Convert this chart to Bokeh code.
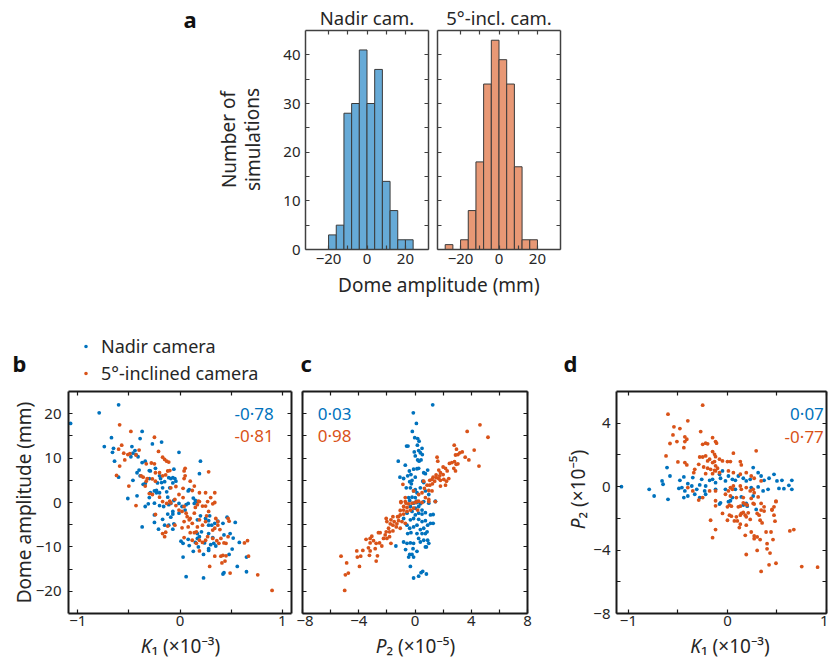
from bokeh.plotting import figure
from bokeh.layouts import column, row
from bokeh.models import Range1d, FixedTicker, LinearAxis, Label, Legend, LegendItem
from bokeh.embed import file_html
from bokeh.resources import INLINE

FONT = "Noto Sans"
BLUE = "#0072BD"
ORANGE = "#D95319"
HIST_BLUE = "#66AAD7"
HIST_ORANGE = "#E89875"
AX = "#262626"

# ---------------- data ----------------
# (a) histograms of dome amplitude (mm), 4 mm bins
nadir_bin_edges = [-20, -16, -12, -8, -4, 0, 4, 8, 12, 16, 20, 24]
nadir_counts = [3, 5, 28, 30, 41, 30, 37, 14, 8, 2, 2]
incl_bin_edges = [-28, -24, -20, -16, -12, -8, -4, 0, 4, 8, 12, 16, 20]
incl_counts = [1, 0, 2, 8, 18, 34, 43, 39, 34, 17, 2, 2]

# (b) K1 (x1e-3) vs dome amplitude (mm)
b_nadir = [(-1.07,17.8),(-0.79,20.2),(-0.60,22.0),(-0.67,14.6),(-0.74,12.6),(-0.65,12.2),(-0.66,11.3),(-0.64,9.3),
    (-0.60,5.7),(-0.51,0.9),(-0.47,12.6),(-0.46,11.1),(-0.44,11.7),(-0.48,10.3),(-0.43,10.8),(-0.41,10.3),(-0.39,14.4),
    (-0.37,16.0),(-0.37,9.0),(-0.34,9.3),(-0.30,7.2),(-0.29,7.1),(-0.27,13.2),(-0.18,13.6),(-0.30,5.4),(-0.40,7.3),
    (-0.39,6.0),(-0.42,6.7),(-0.46,5.0),(-0.36,4.1),(-0.34,4.3),(-0.24,7.7),(-0.25,2.6),(-0.23,2.7),(-0.22,4.4),
    (-0.20,6.0),(-0.19,5.4),(-0.18,4.5),(-0.15,4.7),(-0.13,2.4),(-0.11,5.6),(-0.09,5.4),(-0.07,5.6),(-0.06,7.5),
    (-0.05,5.4),(-0.04,4.8),(-0.07,4.4),(-0.01,11.3),(0.20,9.3),(0.19,6.5),(0.08,2.6),(0.09,2.9),(0.13,1.0),(0.15,0.5),
    (-0.42,1.5),(-0.30,1.1),(-0.29,2.2),(-0.23,2.2),(-0.20,2.2),(-0.17,3.3),(-0.12,1.2),(-0.10,3.3),
    (-0.34,-0.9),(-0.31,-0.3),(-0.25,-0.15),(-0.20,-0.7),(-0.16,-0.9),(-0.11,-0.5),(-0.09,-0.2),(-0.06,0.45),
    (-0.01,-0.2),(0.02,-0.9),(-0.07,-2.0),(-0.01,-2.4),(-0.12,-2.6),(-0.09,-3.3),(-0.07,-2.6),(-0.25,-2.8),
    (-0.17,-3.8),(-0.15,-5.1),(-0.11,-5.1),(-0.06,-4.8),(-0.07,-6.0),(-0.21,-6.0),(-0.25,-4.5),(-0.37,-5.5),
    (0.01,-8.7),(0.03,-9.2),(0.08,-8.3),(0.03,-12.3),(0.09,-9.7),(0.13,-11.0),(0.15,-9.0),(0.18,-10.0),(0.17,-8.1),
    (0.17,-7.0),(0.19,-7.7),(0.21,-6.6),(0.24,-9.1),(0.23,-11.7),(0.28,-10.4),(0.28,-10.8),(0.30,-9.5),(0.33,-9.2),
    (0.32,-7.9),(0.28,-7.0),(0.28,-5.1),(0.31,-5.1),(0.34,-4.7),(0.37,-4.2),(0.42,-4.7),(0.46,-3.3),(0.54,-4.5),
    (0.43,-7.3),(0.49,-7.0),(0.52,-8.0),(0.58,-9.0),(0.51,-10.5),(0.48,-11.7),(0.65,-12.3),(0.56,-14.4),(0.43,-15.8),
    (0.42,-16.1),(0.65,-15.6),(0.06,-16.7),(0.23,-17.0),(0.29,-3.0),(0.28,-4.1),(0.25,-3.6),(0.20,-3.0),(0.17,-3.9),
    (0.14,-0.2),(0.17,0.2),(0.08,-0.2),(0.06,-0.5),(0.05,-1.7),(0.35,-9.8)]
b_incl = [(-0.59,17.5),(-0.48,16.0),(-0.25,14.7),(-0.57,12.9),(-0.60,12.0),(-0.55,11.1),(-0.54,9.6),(-0.51,10.8),
    (-0.49,11.0),(-0.43,10.7),(-0.40,11.8),(-0.59,8.2),(-0.62,6.1),(-0.50,3.7),(-0.33,8.7),(-0.28,8.9),(-0.25,8.7),
    (-0.21,11.5),(-0.17,10.2),(-0.15,9.7),(-0.13,9.3),(-0.11,9.1),(-0.12,7.1),(-0.10,7.2),(-0.20,6.7),(-0.24,6.7),
    (-0.27,5.3),(-0.32,5.4),(-0.33,4.8),(-0.36,5.7),(-0.38,6.0),(-0.34,3.7),(-0.30,2.0),(-0.27,1.8),(-0.24,4.8),
    (-0.17,6.0),(-0.14,6.2),(-0.09,3.3),(-0.04,3.6),(0.05,7.7),(0.04,7.1),(0.05,6.0),(0.04,5.4),(0.03,3.2),(0.10,4.8),
    (0.12,2.7),(0.14,3.7),(0.19,2.2),(0.25,2.2),(0.28,6.9),(0.34,2.2),(0.30,1.1),(0.18,0.3),(0.03,1.1),(-0.01,1.8),
    (-0.05,0.7),(-0.10,0.3),(-0.20,1.2),
    (-0.43,-0.7),(-0.24,-2.7),(-0.17,0.2),(-0.13,-0.2),(-0.09,-0.1),(-0.04,-0.7),(-0.01,-1.7),(0.02,-2.0),(0.04,-0.9),
    (0.06,-2.4),(0.07,-3.2),(0.10,-3.6),(0.14,-2.4),(0.15,-1.1),(0.17,-0.5),(0.19,0.2),(0.22,-0.8),(0.25,-0.8),
    (0.27,0.2),(0.32,-0.3),(0.34,0.0),(0.28,-2.0),(0.26,-3.0),(0.25,-4.3),(0.22,-5.1),(0.19,-3.9),(0.17,-5.5),
    (0.16,-6.6),(0.14,-6.8),(0.10,-6.8),(0.08,-5.5),(0.04,-4.3),(0.02,-5.7),(-0.05,-5.1),(-0.12,-5.3),(-0.14,-6.7),
    (-0.15,-7.7),(-0.17,-7.0),(0.09,-3.9),(0.12,-4.7),(0.35,-3.6),(0.37,-4.3),(0.37,-5.1),(0.39,-6.1),(0.34,-5.8),
    (0.32,-6.2),(0.47,-3.6),(0.48,-4.2),(0.27,-7.7),(0.25,-8.5),(0.22,-9.0),(0.19,-8.5),(0.19,-10.9),(0.32,-8.1),
    (0.36,-8.6),(0.38,-9.2),(0.40,-8.1),(0.43,-9.1),(0.45,-9.2),(0.47,-7.7),(0.34,-12.1),(0.40,-12.1),(0.42,-11.9),
    (0.45,-12.0),(0.44,-13.2),(0.41,-13.6),(0.49,-15.9),(0.29,-14.4),(0.63,-9.1),(0.66,-8.6),(0.67,-12.1),
    (0.76,-16.3),(0.90,-19.8),(0.04,-7.9),(0.12,-8.5),(0.16,-9.2)]

# (c) P2 (x1e-5) vs dome amplitude (mm)
c_nadir = [(1.26,22.0),(-0.12,20.2),(0.10,17.8),(-0.19,16.0),(-0.02,14.6),(0.19,14.4),(0.29,13.8),(0.17,12.9),
    (-0.60,12.7),(-0.50,12.7),(-0.05,11.4),(0.26,11.7),(0.38,11.2),(0.50,12.2),(0.52,10.8),(0.02,10.5),(0.29,9.3),
    (0.19,9.6),(0.43,9.6),(-1.19,9.3),(-0.69,8.4),(-0.40,7.1),(-0.10,7.5),(0.14,7.6),(0.26,7.7),(-0.29,6.3),
    (-0.52,6.0),(-1.07,5.7),(-0.81,5.4),(-0.38,4.7),(-0.21,5.0),(0.02,5.7),(0.62,6.7),(0.74,6.5),(0.90,7.3),
    (-0.62,3.3),(-0.33,3.3),(-0.26,4.2),(-0.10,2.6),(0.02,2.9),(0.14,2.2),(0.38,3.3),(0.55,4.8),(0.62,4.5),
    (-0.45,1.1),(-0.21,1.2),(0.02,1.1),(0.10,0.3),(1.45,0.3),(0.98,1.8),(0.74,2.6),
    (-0.38,0.45),(-0.10,-0.15),(0.14,0.0),(0.38,-0.3),(0.62,0.2),(0.98,-0.15),(1.45,0.2),(-0.33,-0.9),(0.02,-1.3),
    (0.26,-0.9),(0.50,-1.7),(-0.57,-2.4),(-0.21,-2.0),(0.02,-2.8),(0.26,-2.4),(0.50,-2.6),(0.74,-2.3),(1.10,-2.8),
    (1.29,-2.7),(-0.81,-3.6),(-0.33,-3.9),(-0.10,-3.6),(0.26,-3.8),(0.50,-4.3),(0.74,-4.1),(0.90,-5.1),(1.10,-4.7),
    (1.29,-4.7),(-0.57,-5.1),(-0.38,-5.8),(-0.10,-5.5),(0.14,-5.1),(0.38,-6.1),(0.62,-5.8),(0.86,-6.6),(-0.52,-7.0),
    (-0.29,-6.8),(0.14,-7.0),(0.50,-7.0),(0.74,-7.0),(-0.81,-8.9),(-0.57,-9.2),(-0.33,-9.1),(-0.10,-9.2),(0.26,-8.1),
    (0.38,-8.9),(0.62,-8.5),(0.90,-8.5),(0.98,-9.2),(0.81,-10.0),(-0.67,-10.6),(-0.14,-10.4),(0.14,-11.0),
    (0.74,-10.0),(-1.36,-9.8),(-0.38,-11.7),(-0.21,-11.7),(-0.45,-12.3),(-0.10,-12.3),(-0.33,-14.4),(-0.10,-17.0),
    (0.26,-16.6),(0.43,-15.8),(0.55,-15.5),(0.81,-16.1)]
c_incl = [(4.62,17.5),(3.71,16.0),(5.19,14.7),(2.79,12.9),(2.95,12.0),(4.21,11.8),(3.19,11.2),(3.36,11.4),
    (2.88,10.7),(3.05,10.8),(3.57,10.2),(3.83,9.6),(1.57,10.2),(1.62,9.3),(2.45,8.8),(2.62,9.0),(2.81,9.2),(2.93,8.6),
    (3.05,8.7),(4.55,8.2),(2.00,8.0),(2.17,7.7),(2.29,7.1),(2.76,7.7),(2.88,7.1),(1.69,7.3),(1.81,6.7),(2.00,6.3),
    (1.76,6.0),(1.50,6.2),(1.29,5.7),(1.52,5.6),(1.69,5.4),(1.81,5.0),(2.05,5.2),(2.24,4.8),(2.40,5.4),(2.17,3.9),
    (1.81,3.7),(1.05,5.0),(1.21,5.2),(1.40,4.8),(1.24,4.2),(1.05,3.9),(0.86,3.9),(0.62,4.8),(0.67,3.2),(0.98,2.7),
    (1.21,2.6),(0.50,2.2),(0.26,1.8),(-0.86,4.1),(-0.10,2.6),(-0.69,1.1),(-1.00,0.2),(0.02,0.0),(0.26,0.3),
    (0.74,1.1),(0.98,0.7),
    (-1.00,0.0),(-0.69,0.2),(-0.45,-0.3),(-0.21,-0.15),(0.14,0.2),(0.50,0.0),(0.98,0.2),(1.45,0.2),(-1.05,-1.8),
    (-0.81,-1.7),(-0.57,-2.0),(-0.33,-1.7),(-0.10,-1.3),(0.19,-1.7),(-1.05,-2.8),(-0.81,-2.6),(-1.24,-3.2),
    (-1.57,-3.2),(-2.05,-3.6),(-2.00,-4.3),(-1.71,-3.9),(-1.48,-4.3),(-1.17,-4.1),(-0.93,-4.3),(-0.69,-4.7),
    (-1.76,-4.8),(-1.57,-5.1),(-1.33,-5.5),(-1.05,-5.8),(-1.88,-5.8),(-2.05,-6.6),(-1.81,-6.6),(-1.57,-6.4),
    (-2.48,-6.8),(-2.60,-6.8),(-2.12,-7.3),(-1.81,-7.7),(-2.24,-8.1),(-2.00,-8.1),(-3.07,-7.6),(-3.19,-8.1),
    (-3.48,-8.3),(-2.95,-8.6),(-3.19,-9.1),(-2.76,-9.2),(-2.52,-9.1),(-2.36,-9.8),(-1.71,-9.2),(-3.31,-10.2),
    (-2.83,-10.4),(-3.71,-10.8),(-3.19,-10.9),(-4.14,-10.9),(-4.10,-12.3),(-3.86,-12.1),(-3.24,-11.9),(-2.67,-12.0),
    (-2.76,-13.2),(-4.86,-13.6),(-5.26,-12.1),(-3.95,-14.4),(-4.74,-15.9),(-4.95,-16.3),(-5.00,-19.8),(-0.64,-0.15),
    (-0.81,-0.9),(-0.57,-1.1),(-1.29,-4.8),(-1.17,-3.2)]

# (d) K1 (x1e-3) vs P2 (x1e-5)
d_nadir = [(-1.07,0.0),(-0.79,-0.17),(-0.74,-0.59),(-0.66,0.36),(-0.65,0.15),(-0.61,1.2),(-0.58,0.67),(-0.60,-0.80),
    (-0.48,0.40),(-0.44,0.61),(-0.49,-0.11),(-0.46,-0.06),(-0.43,-0.27),(-0.40,0.19),(-0.36,0.04),(-0.35,0.57),
    (-0.31,-0.17),(-0.28,0.11),(-0.26,0.46),(-0.23,-0.27),(-0.22,0.04),(-0.18,0.40),(-0.15,0.46),(-0.12,0.25),
    (-0.08,0.78),(-0.05,0.99),(-0.07,0.53),(-0.02,0.36),(0.01,0.67),(0.05,0.46),(0.08,0.40),(0.11,0.67),(0.16,0.53),
    (0.19,0.36),(0.23,0.46),(0.26,1.20),(0.31,0.88),(0.34,0.67),(0.37,0.40),(0.42,0.53),(0.47,0.78),(0.50,0.36),
    (0.55,0.40),(0.62,0.08),(0.65,0.40),(0.65,-0.17),(0.57,-0.13),(0.52,-0.11),(0.41,-0.17),(0.36,-0.27),
    (0.31,-0.02),(0.24,-0.06),(0.08,-0.17),(-0.02,-0.17),(-0.12,-0.17),(-0.22,-0.48),(-0.28,-0.69),(-0.33,-0.48),
    (-0.40,-0.59),(-0.44,-0.69),(0.05,-0.69),(0.14,-0.65),(0.26,-0.59),
    (-0.08,-1.10),(-0.07,-1.02),(0.01,-0.95),(0.03,-0.89),(0.20,-1.23),(0.29,-1.44),(0.16,-1.16),(0.19,-1.06)]
d_incl = [(-0.25,5.14),(-0.60,4.57),(-0.40,4.15),(-0.54,3.77),(-0.48,3.66),(-0.55,3.26),(-0.43,3.14),(-0.41,2.99),
    (-0.51,2.84),(-0.58,2.72),(-0.43,2.84),(-0.44,2.46),(-0.27,3.47),(-0.15,3.09),(-0.12,2.84),(-0.11,2.74),
    (-0.22,2.74),(-0.25,2.67),(-0.20,2.70),(-0.62,1.94),(-0.50,1.56),(-0.43,1.52),(-0.41,1.37),(-0.33,1.09),
    (-0.34,0.88),(-0.28,1.87),(-0.25,1.87),(-0.22,1.94),(-0.15,2.21),(-0.13,2.04),(-0.12,1.89),(-0.18,1.73),
    (-0.20,1.62),(-0.15,1.52),(-0.13,1.58),(-0.08,1.73),(-0.05,1.62),(0.00,1.58),(0.03,1.58),(0.06,2.11),(0.13,1.58),
    (0.14,1.37),(0.29,2.26),(-0.29,1.41),(-0.24,1.24),(-0.20,1.16),(-0.17,1.09),(-0.13,1.03),(-0.12,0.99),
    (-0.08,0.88),(-0.15,0.82),(-0.22,0.82),(0.01,0.99),(0.06,0.88),(0.13,0.78),(0.19,0.88),(0.24,0.67),(0.27,0.53),
    (0.34,0.36),(-0.12,1.31),(-0.10,1.16),(0.03,-0.06),(0.06,0.04),(0.01,-0.27),(0.05,-0.17),(0.13,0.04),
    (0.14,-0.17),(0.19,-0.06),(0.23,-0.27),(0.26,-0.17),(0.27,-0.38),(-0.02,-0.48),(0.03,-0.59),(0.09,-0.69),
    (0.16,-0.69),(0.24,-0.74),(0.31,-0.65),(0.49,-0.91),(-0.35,-0.27),(-0.40,-0.06),(-0.25,-0.69),(-0.18,-0.27),
    (-0.12,-0.27),
    (-0.29,-0.85),(-0.12,-0.89),(-0.12,-1.21),(0.00,-1.27),(0.02,-1.16),(0.04,-1.23),(0.11,-1.27),(0.13,-1.23),
    (0.16,-1.02),(0.18,-1.10),(0.20,-1.16),(0.26,-1.06),(0.27,-1.10),(0.34,-1.06),(0.37,-1.27),(0.47,-1.27),
    (0.49,-0.95),(-0.05,-1.69),(0.02,-1.80),(0.04,-1.86),(0.07,-2.16),(0.10,-2.16),(0.09,-1.90),(0.13,-1.80),
    (0.14,-1.69),(0.16,-1.63),(0.18,-1.80),(0.19,-1.90),(0.21,-1.65),(0.23,-2.07),(0.19,-2.43),(0.13,-2.37),
    (0.12,-2.58),(0.00,-2.12),(-0.17,-2.12),(-0.12,-2.71),(-0.15,-3.22),(0.30,-1.69),(0.32,-1.80),(0.33,-2.12),
    (0.35,-2.29),(0.34,-1.48),(0.37,-1.54),(0.45,-1.48),(0.47,-1.80),(0.45,-1.44),(0.48,-2.18),(0.24,-2.86),
    (0.27,-3.11),(0.30,-3.17),(0.27,-3.28),(0.33,-3.34),(0.39,-2.86),(0.44,-2.86),(0.46,-3.34),(0.40,-3.60),
    (0.40,-3.92),(0.30,-4.02),(0.43,-4.19),(0.19,-4.28),(0.42,-4.93),(0.49,-4.83),(0.34,-5.35),(0.63,-2.79),
    (0.67,-2.71),(0.75,-5.04),(0.91,-5.08),(0.18,-3.07)]

# correlation coefficients shown in panels
corr_b = ["-0·78", "-0·81"]
corr_c = ["0·03", "0·98"]
corr_d = ["0·07", "-0·77"]
legend_labels = ["Nadir camera", "5°-inclined camera"]


def unzip(pairs):
    return [p[0] for p in pairs], [p[1] for p in pairs]


def hide_labels(ax):
    ax.major_label_text_font_size = "1px"
    ax.major_label_text_color = None
    ax.major_label_standoff = 0


def box_axes(p, xt, xm, yt, ym, color, lw, tick_size="15px", xstand=3, ystand=7,
             show_y=True):
    top = LinearAxis()
    right = LinearAxis()
    p.add_layout(top, "above")
    p.add_layout(right, "right")
    for ax in p.xaxis:
        ax.ticker = FixedTicker(ticks=xt, minor_ticks=xm)
    for ax in p.yaxis:
        ax.ticker = FixedTicker(ticks=yt, minor_ticks=ym)
    for ax in p.axis:
        ax.axis_line_color = color
        ax.axis_line_width = lw
        ax.major_tick_line_color = color
        ax.minor_tick_line_color = color
        ax.major_tick_line_width = 1.2
        ax.minor_tick_line_width = 1.2
        ax.major_tick_in = 4
        ax.major_tick_out = 0
        ax.minor_tick_in = 4
        ax.minor_tick_out = 0
        ax.major_label_text_font = FONT
        ax.major_label_text_font_size = tick_size
        ax.major_label_text_color = AX
    hide_labels(top)
    hide_labels(right)
    p.below[0].major_label_standoff = xstand
    p.left[0].major_label_standoff = ystand
    if not show_y:
        hide_labels(p.left[0])
    p.grid.visible = False
    p.outline_line_color = None


def band(width, height):
    """Plain text band (no axes) whose coordinates are its own pixels."""
    b = figure(width=width, height=height, x_range=Range1d(0, width), y_range=Range1d(0, height),
               x_axis_location=None, y_axis_location=None, toolbar_location=None,
               output_backend="svg", min_border=0, outline_line_color=None)
    b.grid.visible = False
    return b


def txt(p, x, y, text, color=AX, size="19px", align="left", style="normal", angle=0.0):
    # y is the visual middle of the text line
    p.add_layout(Label(x=x, y=y, text=text, text_color=color, text_font=FONT,
                       text_font_size=size, text_align=align, text_baseline="middle",
                       text_font_style=style, angle=angle))


W = 828  # total page width used

# ---------------- (a) histograms ----------------
def hist_fig(edges, counts, fill, width, mbl, mbr):
    p = figure(width=width, height=242, x_range=Range1d(-32, 32), y_range=Range1d(0, 45),
               toolbar_location=None, output_backend="svg",
               min_border_left=mbl, min_border_right=mbr, min_border_top=1, min_border_bottom=22)
    keep = [i for i in range(len(counts)) if counts[i] > 0]
    p.quad(left=[edges[i] for i in keep], right=[edges[i + 1] for i in keep], bottom=0,
           top=[counts[i] for i in keep], fill_color=fill, line_color="#3a3a3a", line_width=1.0)
    return p


h1 = hist_fig(nadir_bin_edges, nadir_counts, HIST_BLUE, 152, 25, 4)
h2 = hist_fig(incl_bin_edges, incl_counts, HIST_ORANGE, 132, 5, 4)
box_axes(h1, [-20, 0, 20], [-10, 10], [0, 10, 20, 30, 40], [5, 15, 25, 35], "#404040", 1.5,
         xstand=4, ystand=5)
box_axes(h2, [-20, 0, 20], [-10, 10], [0, 10, 20, 30, 40], [5, 15, 25, 35], "#404040", 1.5,
         xstand=4, ystand=5, show_y=False)

a_left = band(280, 271)
txt(a_left, 183, 253, "a", size="22px", style="bold", color="#111111")
txt(a_left, 228, 132, "Number of", align="center", angle=1.5708)
txt(a_left, 252, 132, "simulations", align="center", angle=1.5708)

a_top = band(284, 29)
txt(a_top, 86.5, 12.4, "Nadir cam.", size="18.5px", align="center")
txt(a_top, 218.5, 12.4, "5°-incl. cam.", size="18.5px", align="center")

a_xlab = band(W, 29)
txt(a_xlab, 438.3, 16.0, "Dome amplitude (mm)", align="center")

# ---------------- header of b-d (panel letters and legend) ----------------
head = band(W, 89)
txt(head, 12, 27, "b", size="22px", style="bold", color="#111111")
txt(head, 300, 27, "c", size="22px", style="bold", color="#111111")
txt(head, 563, 27, "d", size="22px", style="bold", color="#111111")
bx, by = unzip(b_nadir)
ix, iy = unzip(b_incl)
# legend keys: the panel-b series, not drawn in this band (only their legend glyphs are)
k1 = head.scatter(bx, by, size=3.8, fill_color=BLUE, line_color=None, visible=False)
k2 = head.scatter(ix, iy, size=3.8, fill_color=ORANGE, line_color=None, visible=False)
leg = Legend(items=[LegendItem(label=legend_labels[0], renderers=[k1]),
                    LegendItem(label=legend_labels[1], renderers=[k2])],
             location=(81, 4), orientation="vertical", padding=0, margin=0, spacing=3,
             glyph_width=9, glyph_height=22, label_height=22, label_standoff=11,
             label_text_font=FONT, label_text_font_size="18px", label_text_color=AX,
             border_line_color=None, background_fill_alpha=0,
             inactive_fill_alpha=0)
head.add_layout(leg, "center")

# ---------------- (b) ----------------
pb = figure(width=296, height=243, x_range=Range1d(-1.09, 1.09), y_range=Range1d(-25, 25),
            toolbar_location=None, output_backend="svg",
            min_border_left=68, min_border_right=5, min_border_top=2, min_border_bottom=19)
pb.scatter(bx, by, size=3.8, fill_color=BLUE, line_color=None)
pb.scatter(ix, iy, size=3.8, fill_color=ORANGE, line_color=None)
box_axes(pb, [-1, 0, 1], [-0.5, 0.5], [-20, -10, 0, 10, 20], [-15, -5, 5, 15], "#1a1a1a", 2.0,
         xstand=2)
pb.left[0].axis_label = "Dome amplitude (mm)"
pb.left[0].axis_label_text_font = FONT
pb.left[0].axis_label_text_font_size = "19px"
pb.left[0].axis_label_text_font_style = "normal"
pb.left[0].axis_label_text_color = AX
pb.left[0].axis_label_standoff = -4
txt(pb, 0.917, 20.1, corr_b[0], color=BLUE, size="17px", align="right")
txt(pb, 0.917, 15.0, corr_b[1], color=ORANGE, size="17px", align="right")

# ---------------- (c) ----------------
pc = figure(width=244, height=243, x_range=Range1d(-8, 8), y_range=Range1d(-25, 25),
            toolbar_location=None, output_backend="svg",
            min_border_left=6, min_border_right=13, min_border_top=2, min_border_bottom=19)
cx, cy = unzip(c_nadir)
cix, ciy = unzip(c_incl)
pc.scatter(cx, cy, size=3.8, fill_color=BLUE, line_color=None)
pc.scatter(cix, ciy, size=3.8, fill_color=ORANGE, line_color=None)
box_axes(pc, [-8, -4, 0, 4, 8], [-6, -2, 2, 6], [-20, -10, 0, 10, 20], [-15, -5, 5, 15],
         "#1a1a1a", 2.0, xstand=2, show_y=False)
txt(pc, -6.91, 20.1, corr_c[0], color=BLUE, size="17px")
txt(pc, -6.91, 15.0, corr_c[1], color=ORANGE, size="17px")

# ---------------- (d) ----------------
d_ylab = band(50, 243)
txt(d_ylab, 37.5, 104, "P", align="right", style="italic", angle=1.5708)
txt(d_ylab, 37.5, 104, "₂ (×10⁻⁵)", align="left", angle=1.5708)

pd_ = figure(width=238, height=243, x_range=Range1d(-1.12, 1.0), y_range=Range1d(-8, 6),
             toolbar_location=None, output_backend="svg",
             min_border_left=24, min_border_right=2, min_border_top=2, min_border_bottom=19)
dx, dy = unzip(d_nadir)
dix, diy = unzip(d_incl)
pd_.scatter(dx, dy, size=3.8, fill_color=BLUE, line_color=None)
pd_.scatter(dix, diy, size=3.8, fill_color=ORANGE, line_color=None)
box_axes(pd_, [-1, 0, 1], [-0.5, 0.5], [-8, -4, 0, 4], [-6, -2, 2], "#1a1a1a", 2.0,
         xstand=2, ystand=6)
txt(pd_, 0.973, 4.60, corr_d[0], color=BLUE, size="17px", align="right")
txt(pd_, 0.973, 3.18, corr_d[1], color=ORANGE, size="17px", align="right")

# ---------------- footer: x-axis titles of b-d ----------------
foot = band(W, 28)
for xa, main, rest in [(151, "K", "₁ (×10⁻³)"), (386, "P", "₂ (×10⁻⁵)"), (700.5, "K", "₁ (×10⁻³)")]:
    txt(foot, xa, 14.3, main, align="right", style="italic")
    txt(foot, xa, 14.3, rest, align="left")

layout = column(
    row(a_left, column(a_top, row(h1, h2))),
    a_xlab,
    head,
    row(pb, pc, d_ylab, pd_),
    foot,
)
open("out.html", "w").write(file_html(layout, INLINE))
